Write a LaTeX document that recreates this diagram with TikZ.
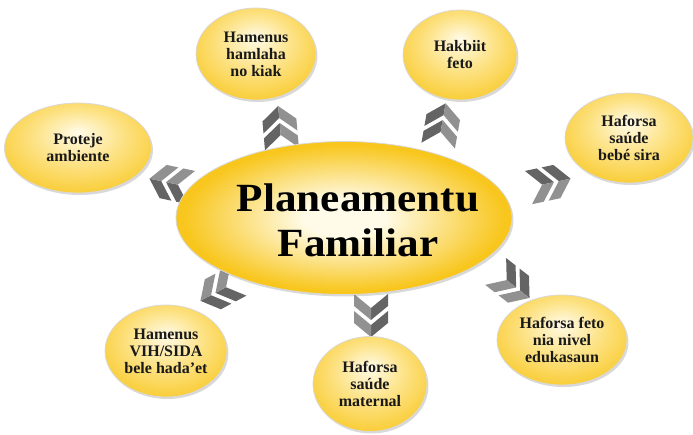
\documentclass[tikz,border=0pt]{standalone}
\usepackage{fontspec}
\setmainfont{Liberation Serif}
\newfontfamily\titlefont{Liberation Serif}[FakeStretch=1.08]
\usetikzlibrary{shapes.geometric,shadows}
\definecolor{gold}{RGB}{248,198,28}
\definecolor{pale}{RGB}{255,251,232}
\definecolor{midy}{RGB}{253,228,140}
\definecolor{chevA}{RGB}{100,100,100}
\definecolor{chevB}{RGB}{145,145,145}
\definecolor{txt}{RGB}{25,25,25}
\pgfdeclareradialshading{mainshade}{\pgfpoint{0bp}{0bp}}{color(0bp)=(pale); color(6bp)=(pale); color(24bp)=(gold); color(50bp)=(gold)}
\pgfdeclareradialshading{subshade}{\pgfpoint{0bp}{9bp}}{color(0bp)=(pale); color(14bp)=(midy); color(34bp)=(gold); color(50bp)=(gold)}
\tikzset{
  bub/.style={ellipse, draw=gray!30, line width=0.8pt, shading=subshade,
    drop shadow={shadow xshift=1.5pt, shadow yshift=-2pt, opacity=0.3, fill=gray},
    inner sep=0pt, inner xsep=-4pt, align=center, text=txt,
    font=\fontsize{16}{17}\selectfont\bfseries},
  hub/.style={ellipse, draw=gray!30, line width=0.8pt, shading=mainshade,
    drop shadow={shadow xshift=1.5pt, shadow yshift=-2pt, opacity=0.3, fill=gray},
    inner sep=0pt, minimum width=336pt, minimum height=153pt},
  hubtext/.style={inner sep=0pt, align=center, text=black,
    font=\titlefont\fontsize{40}{45}\selectfont\bfseries},
  dchev/.pic={
    \foreach \o in {-22,-5}{
      \fill[chevA] (\o,17) -- ({\o+12},17) -- ({\o+26},0) -- ({\o+14},0) -- cycle;
      \fill[chevB] ({\o+14},0) -- ({\o+26},0) -- ({\o+12},-17) -- (\o,-17) -- cycle;
    }
  }
}
\begin{document}
\begin{tikzpicture}[x=1pt,y=1pt]
\useasboundingbox (0,0) rectangle (693,434);
% chevrons
\pic[rotate=95]  (ch1) at (280,307) {dchev};
\pic[rotate=80]  (ch2) at (442,310) {dchev};
\pic[rotate=168] (ch3) at (170,251) {dchev};
\pic[rotate=12]  (ch4) at (550,251) {dchev};
\pic[rotate=208] (ch5) at (219,143) {dchev};
\pic[rotate=270] (ch6) at (371,118) {dchev};
\pic[rotate=-38] (ch7) at (513,149) {dchev};
% hub
\node[hub] (main) at (344,216) {};
\node[hubtext] (maintext) at ([xshift=14pt,yshift=-2pt]main.center) {Planeamentu\\Familiar};
% satellites
\node[bub, minimum width=120pt, minimum height=92pt] (n1) at (256,380) {Hamenus\\hamlaha\\no kiak};
\node[bub, minimum width=114pt, minimum height=90pt] (n2) at (460,379) {Hakbiit\\feto};
\node[bub, minimum width=147pt, minimum height=90pt] (n3) at (78,286) {Proteje\\ambiente};
\node[bub, minimum width=128pt, minimum height=90pt] (n4) at (629,296) {Haforsa\\saúde\\bebé sira};
\node[bub, minimum width=122pt, minimum height=92pt] (n5) at (166,83) {Hamenus\\VIH/SIDA\\bele hada’et};
\node[bub, minimum width=114pt, minimum height=95pt] (n6) at (370,50) {Haforsa\\saúde\\maternal};
\node[bub, minimum width=130pt, minimum height=90pt] (n7) at (562,94) {Haforsa feto\\nia nivel\\edukasaun};
\end{tikzpicture}
\end{document}
